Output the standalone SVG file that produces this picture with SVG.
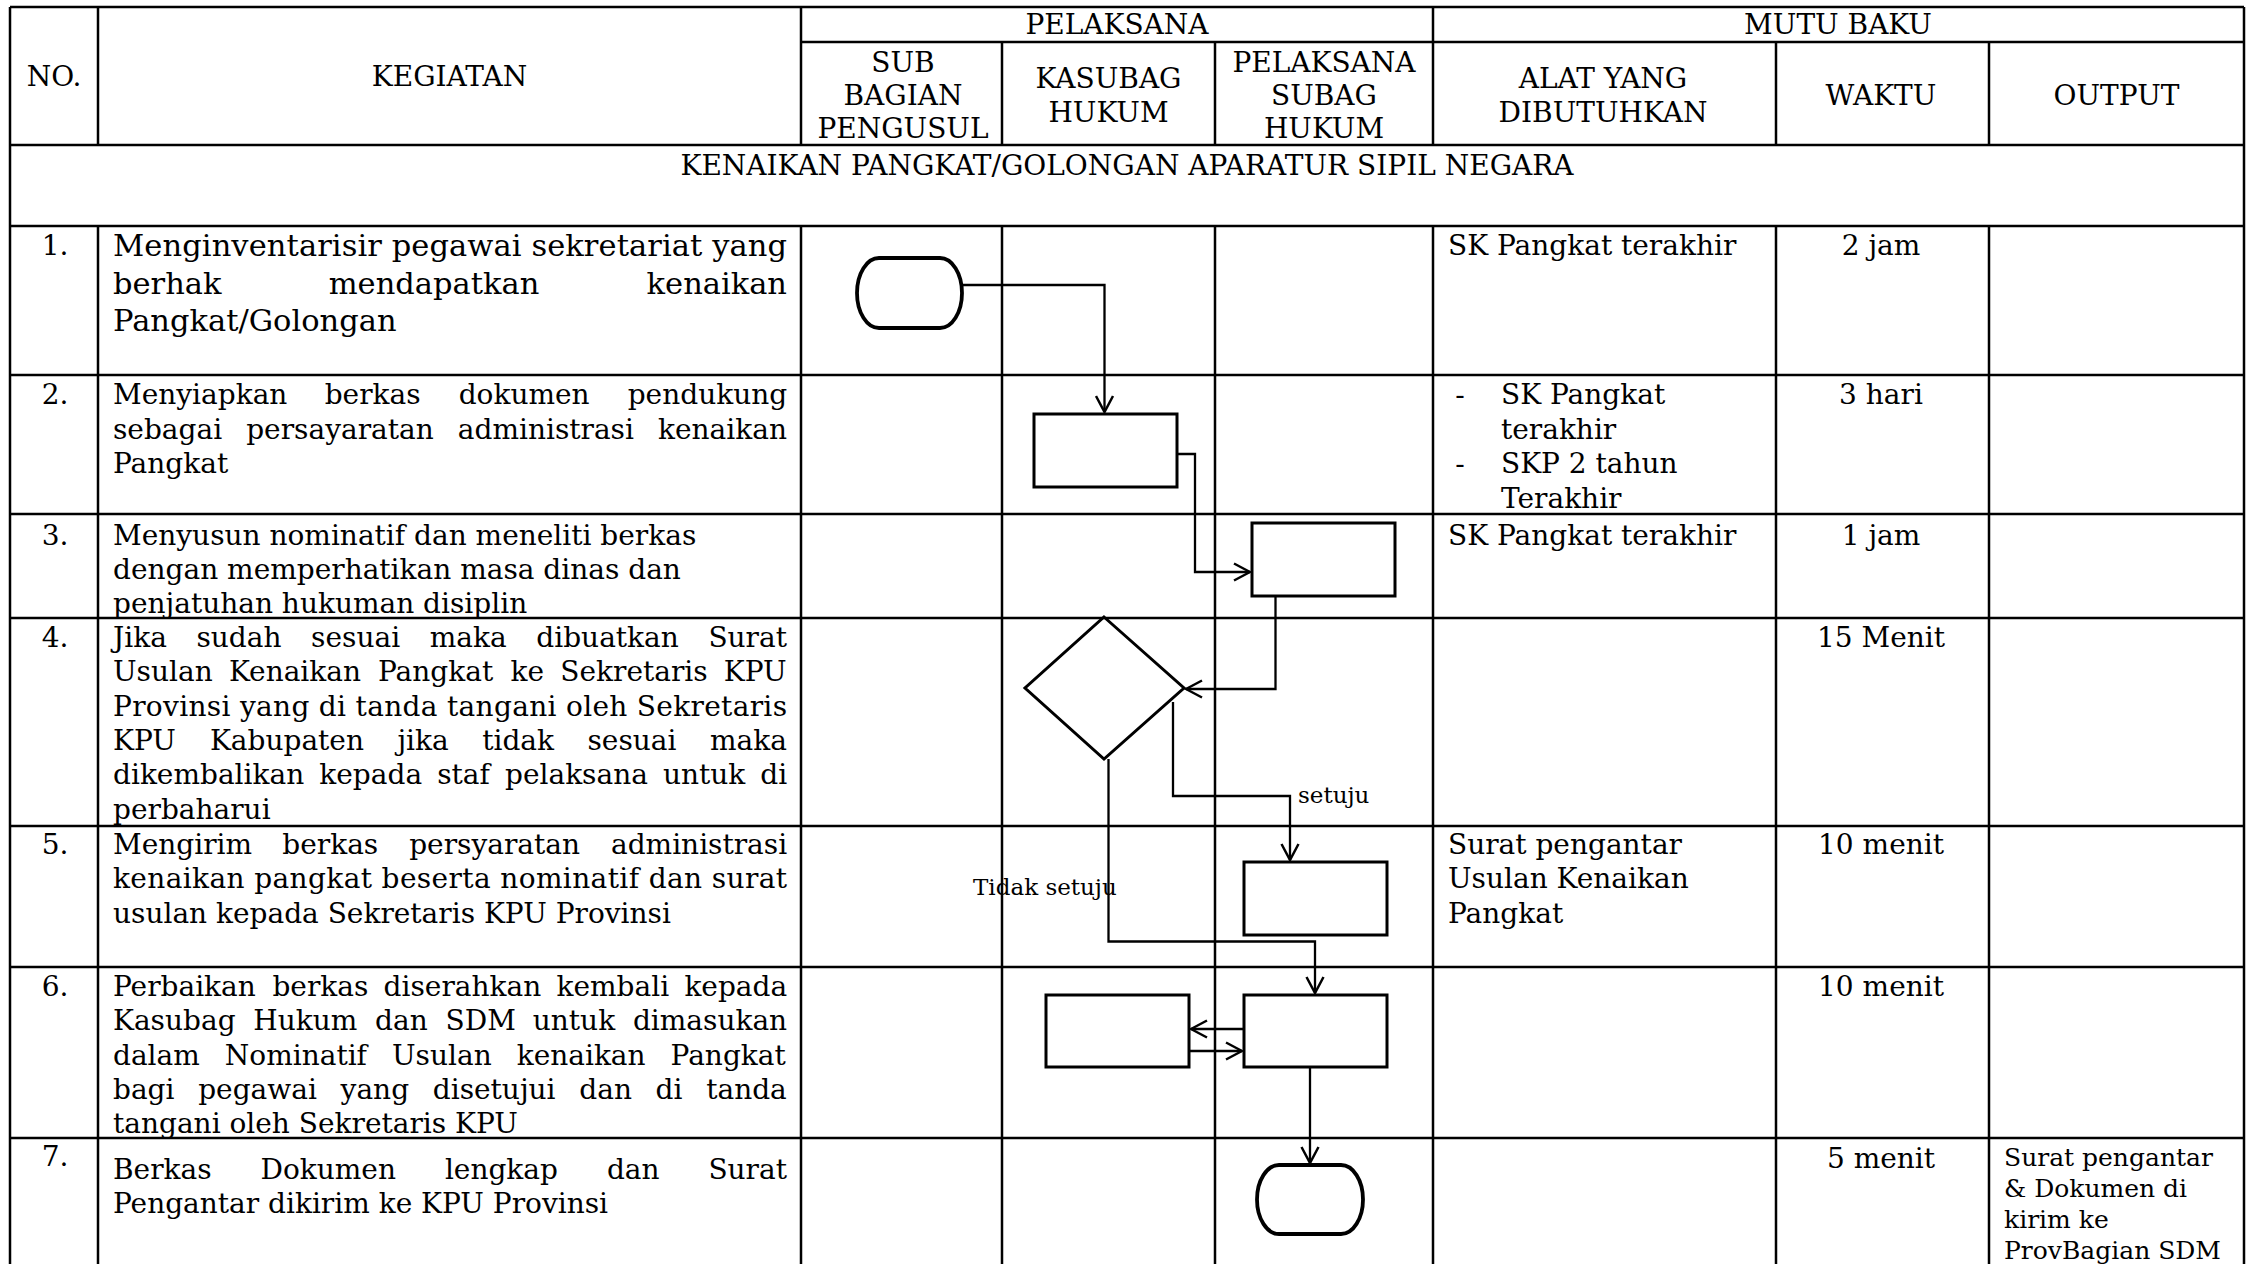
<svg xmlns="http://www.w3.org/2000/svg" width="2254" height="1264" viewBox="0 0 2254 1264">
<style>
.t{font-family:"DejaVu Serif","Liberation Serif",serif;fill:#000}
.h{font-size:28px}
.b{font-size:28px}
.b1{font-size:30.5px}
.s{font-size:25px}
.l{font-size:23px}
.c{text-anchor:middle}
.grid line{stroke:#000;stroke-width:2.5}
.node{fill:none;stroke:#000;stroke-width:3}
.term{fill:none;stroke:#000;stroke-width:3.8}
.conn path{fill:none;stroke:#000;stroke-width:2.3;marker-end:url(#arr)}
</style>
<defs>
<marker id="arr" viewBox="0 0 20 20" refX="18" refY="10" markerWidth="20" markerHeight="20" markerUnits="userSpaceOnUse" orient="auto">
<path d="M2,1.5 L18,10 L2,18.5" fill="none" stroke="#000" stroke-width="2.5"/>
</marker>
</defs>
<rect width="2254" height="1264" fill="#fff"/>

<g id="grid" class="grid">
<line x1="10" y1="7" x2="2244" y2="7"/>
<line x1="801" y1="42" x2="2244" y2="42"/>
<line x1="10" y1="145" x2="2244" y2="145"/>
<line x1="10" y1="226" x2="2244" y2="226"/>
<line x1="10" y1="375" x2="2244" y2="375"/>
<line x1="10" y1="514" x2="2244" y2="514"/>
<line x1="10" y1="618" x2="2244" y2="618"/>
<line x1="10" y1="826" x2="2244" y2="826"/>
<line x1="10" y1="967" x2="2244" y2="967"/>
<line x1="10" y1="1138" x2="2244" y2="1138"/>
<line x1="10" y1="7" x2="10" y2="1264"/>
<line x1="2244" y1="7" x2="2244" y2="1264"/>
<line x1="98" y1="7" x2="98" y2="145"/>
<line x1="98" y1="226" x2="98" y2="1264"/>
<line x1="801" y1="7" x2="801" y2="145"/>
<line x1="801" y1="226" x2="801" y2="1264"/>
<line x1="1002" y1="42" x2="1002" y2="145"/>
<line x1="1002" y1="226" x2="1002" y2="1264"/>
<line x1="1215" y1="42" x2="1215" y2="145"/>
<line x1="1215" y1="226" x2="1215" y2="1264"/>
<line x1="1433" y1="7" x2="1433" y2="145"/>
<line x1="1433" y1="226" x2="1433" y2="1264"/>
<line x1="1776" y1="42" x2="1776" y2="145"/>
<line x1="1776" y1="226" x2="1776" y2="1264"/>
<line x1="1989" y1="42" x2="1989" y2="145"/>
<line x1="1989" y1="226" x2="1989" y2="1264"/>
</g>

<g id="header">
<text class="t h c" x="54" y="86">NO.</text>
<text class="t h c" x="449.5" y="86">KEGIATAN</text>
<text class="t h c" x="1117" y="34">PELAKSANA</text>
<text class="t h c" x="1838" y="34">MUTU BAKU</text>
<text class="t h c" x="903" y="72">SUB</text>
<text class="t h c" x="903" y="105">BAGIAN</text>
<text class="t h c" x="903" y="138">PENGUSUL</text>
<text class="t h c" x="1108.5" y="88">KASUBAG</text>
<text class="t h c" x="1108.5" y="121.5">HUKUM</text>
<text class="t h c" x="1324" y="72">PELAKSANA</text>
<text class="t h c" x="1324" y="105">SUBAG</text>
<text class="t h c" x="1324" y="138">HUKUM</text>
<text class="t h c" x="1603" y="88">ALAT YANG</text>
<text class="t h c" x="1603" y="121.5">DIBUTUHKAN</text>
<text class="t h c" x="1881" y="105">WAKTU</text>
<text class="t h c" x="2116.5" y="105">OUTPUT</text>
<text class="t h c" x="1127" y="175">KENAIKAN PANGKAT/GOLONGAN APARATUR SIPIL NEGARA</text>
</g>

<g id="numbers" class="t b c">
<text x="55" y="255">1.</text>
<text x="55" y="404">2.</text>
<text x="55" y="545">3.</text>
<text x="55" y="647">4.</text>
<text x="55" y="854">5.</text>
<text x="55" y="996">6.</text>
<text x="55" y="1166">7.</text>
</g>

<g id="kegiatan">
<text class="t b1" x="113" y="256" textLength="674" lengthAdjust="spacing">Menginventarisir pegawai sekretariat yang</text>
<text class="t b1" y="293.5"><tspan x="113">berhak</tspan><tspan x="328.7">mendapatkan</tspan><tspan x="646.6">kenaikan</tspan></text>
<text class="t b1" x="113" y="331">Pangkat/Golongan</text>

<text class="t b" y="404"><tspan x="113">Menyiapkan</tspan><tspan x="324.7">berkas</tspan><tspan x="458.7">dokumen</tspan><tspan x="627.7">pendukung</tspan></text>
<text class="t b" y="438.5"><tspan x="113">sebagai</tspan><tspan x="246.2">persayaratan</tspan><tspan x="457.8">administrasi</tspan><tspan x="658">kenaikan</tspan></text>
<text class="t b" x="113" y="473">Pangkat</text>

<text class="t b" x="113" y="545">Menyusun nominatif dan meneliti berkas</text>
<text class="t b" x="113" y="579">dengan memperhatikan masa dinas dan</text>
<text class="t b" x="113" y="612.5">penjatuhan hukuman disiplin</text>

<text class="t b" y="647"><tspan x="113">Jika</tspan><tspan x="196.4">sudah</tspan><tspan x="311.1">sesuai</tspan><tspan x="429.7">maka</tspan><tspan x="536.3">dibuatkan</tspan><tspan x="708.4">Surat</tspan></text>
<text class="t b" y="681.3"><tspan x="113">Usulan</tspan><tspan x="228.9">Kenaikan</tspan><tspan x="378">Pangkat</tspan><tspan x="510.6">ke</tspan><tspan x="560.3">Sekretaris</tspan><tspan x="723.8">KPU</tspan></text>
<text class="t b" x="113" y="715.6" textLength="674" lengthAdjust="spacing">Provinsi yang di tanda tangani oleh Sekretaris</text>
<text class="t b" y="750"><tspan x="113">KPU</tspan><tspan x="209.9">Kabupaten</tspan><tspan x="397.4">jika</tspan><tspan x="482.2">tidak</tspan><tspan x="587.5">sesuai</tspan><tspan x="710">maka</tspan></text>
<text class="t b" y="784.2"><tspan x="113">dikembalikan</tspan><tspan x="319.3">kepada</tspan><tspan x="437.2">staf</tspan><tspan x="505">pelaksana</tspan><tspan x="662.9">untuk</tspan><tspan x="760.3">di</tspan></text>
<text class="t b" x="113" y="818.5">perbaharui</text>

<text class="t b" y="854"><tspan x="113">Mengirim</tspan><tspan x="282.3">berkas</tspan><tspan x="409.2">persyaratan</tspan><tspan x="611">administrasi</tspan></text>
<text class="t b" x="113" y="888.3" textLength="674" lengthAdjust="spacing">kenaikan pangkat beserta nominatif dan surat</text>
<text class="t b" x="113" y="922.6">usulan kepada Sekretaris KPU Provinsi</text>

<text class="t b" y="996"><tspan x="113">Perbaikan</tspan><tspan x="272.4">berkas</tspan><tspan x="383.6">diserahkan</tspan><tspan x="556.5">kembali</tspan><tspan x="684.4">kepada</tspan></text>
<text class="t b" y="1030.3"><tspan x="113">Kasubag</tspan><tspan x="253.3">Hukum</tspan><tspan x="375.1">dan</tspan><tspan x="445.5">SDM</tspan><tspan x="532.8">untuk</tspan><tspan x="632.9">dimasukan</tspan></text>
<text class="t b" y="1064.6"><tspan x="113">dalam</tspan><tspan x="224.8">Nominatif</tspan><tspan x="392">Usulan</tspan><tspan x="516.7">kenaikan</tspan><tspan x="670.6">Pangkat</tspan></text>
<text class="t b" y="1098.9"><tspan x="113">bagi</tspan><tspan x="198.2">pegawai</tspan><tspan x="340.6">yang</tspan><tspan x="432.8">disetujui</tspan><tspan x="579.3">dan</tspan><tspan x="655.6">di</tspan><tspan x="706.2">tanda</tspan></text>
<text class="t b" x="113" y="1133">tangani oleh Sekretaris KPU</text>

<text class="t b" y="1179"><tspan x="113">Berkas</tspan><tspan x="260.5">Dokumen</tspan><tspan x="444.9">lengkap</tspan><tspan x="606.9">dan</tspan><tspan x="708.4">Surat</tspan></text>
<text class="t b" x="113" y="1213">Pengantar dikirim ke KPU Provinsi</text>
</g>

<g id="alat" class="t b">
<text x="1448" y="255">SK Pangkat terakhir</text>
<text x="1460" y="404" text-anchor="middle">-</text>
<text x="1501" y="404">SK Pangkat</text>
<text x="1501" y="438.5">terakhir</text>
<text x="1460" y="473" text-anchor="middle">-</text>
<text x="1501" y="473">SKP 2 tahun</text>
<text x="1501" y="507.5">Terakhir</text>
<text x="1448" y="545">SK Pangkat terakhir</text>
<text x="1448" y="854">Surat pengantar</text>
<text x="1448" y="888.3">Usulan Kenaikan</text>
<text x="1448" y="922.6">Pangkat</text>
</g>

<g id="waktu" class="t b c">
<text x="1881" y="255">2 jam</text>
<text x="1881" y="404">3 hari</text>
<text x="1881" y="545">1 jam</text>
<text x="1881" y="647">15 Menit</text>
<text x="1881" y="854">10 menit</text>
<text x="1881" y="996">10 menit</text>
<text x="1881" y="1168">5 menit</text>
</g>

<g id="output" class="t s">
<text x="2004" y="1166">Surat pengantar</text>
<text x="2004" y="1197">&amp; Dokumen di</text>
<text x="2004" y="1228">kirim ke</text>
<text x="2004" y="1259">ProvBagian SDM</text>
</g>

<g id="start"><rect class="term" x="857" y="258" width="105" height="70" rx="22" ry="35"/></g>
<g id="box-kasubag-2"><rect class="node" x="1034" y="414" width="143" height="73"/></g>
<g id="box-pelaksana-3"><rect class="node" x="1252" y="523" width="143" height="73"/></g>
<g id="decision"><polygon class="node" points="1104,617 1184,688 1104,759 1025,688"/></g>
<g id="box-pelaksana-5"><rect class="node" x="1244" y="862" width="143" height="73"/></g>
<g id="box-pelaksana-6"><rect class="node" x="1244" y="995" width="143" height="72"/></g>
<g id="box-kasubag-6"><rect class="node" x="1046" y="995" width="143" height="72"/></g>
<g id="end"><rect class="term" x="1257" y="1165" width="106" height="69" rx="22" ry="34.5"/></g>

<g id="connectors" class="conn">
<path d="M962,285 H1104.5 V412"/>
<path d="M1177,454 H1195 V572 H1250"/>
<path d="M1275.5,596 V689 H1186"/>
<path d="M1173,702 V796 H1290 V860"/>
<path d="M1108.5,759 V941.5 H1315 V993"/>
<path d="M1244,1029 H1191"/>
<path d="M1189,1051 H1242"/>
<path d="M1310,1067 V1163"/>
</g>

<g id="labels" class="t l">
<text x="1298" y="803">setuju</text>
<text x="973" y="895">Tidak setuju</text>
</g>
</svg>
